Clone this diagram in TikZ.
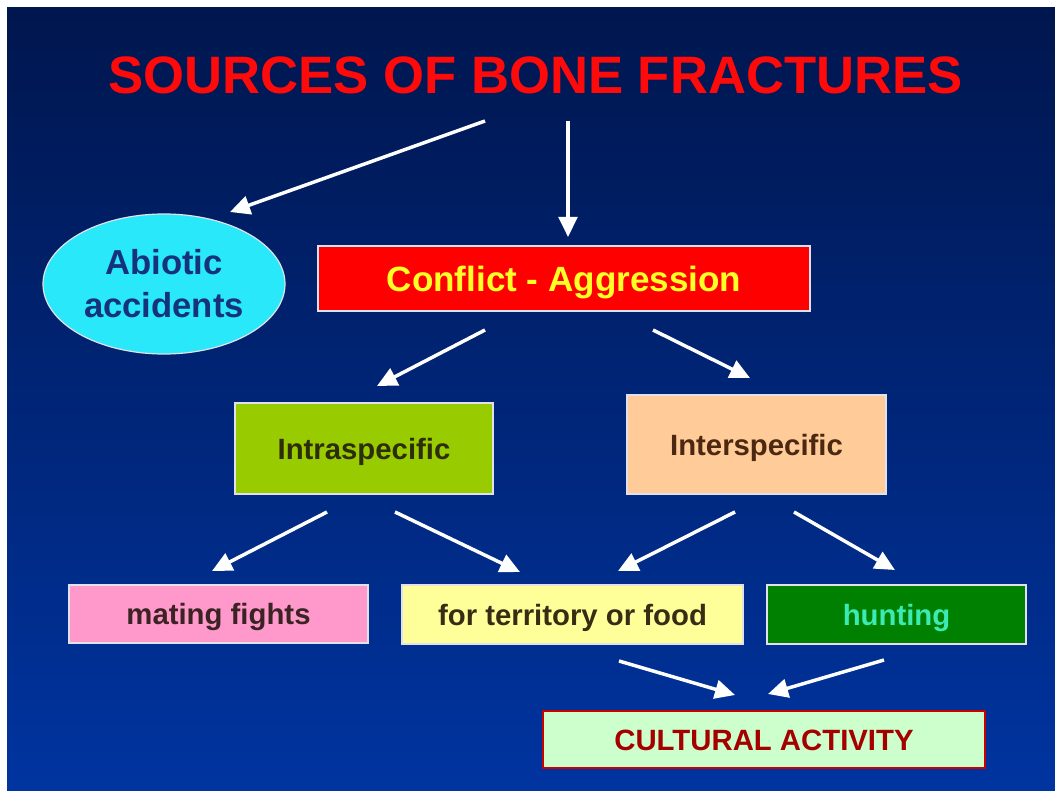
\documentclass[tikz,border=0pt]{standalone}
\usepackage{fontspec}
\setmainfont{Liberation Sans}
\usetikzlibrary{arrows.meta,shapes.geometric}
\definecolor{bgtop}{RGB}{0,22,78}
\definecolor{bgbot}{RGB}{0,52,160}
\definecolor{edgecol}{RGB}{225,225,235}
\definecolor{titlered}{RGB}{255,10,10}
\definecolor{cyanfill}{RGB}{40,232,250}
\definecolor{abiotext}{RGB}{22,50,125}
\definecolor{confred}{RGB}{255,0,0}
\definecolor{confyel}{RGB}{255,255,40}
\definecolor{intrafill}{RGB}{153,204,0}
\definecolor{intratext}{RGB}{45,45,10}
\definecolor{interfill}{RGB}{255,204,153}
\definecolor{intertext}{RGB}{75,40,15}
\definecolor{matefill}{RGB}{255,153,204}
\definecolor{matetext}{RGB}{60,35,35}
\definecolor{terrfill}{RGB}{255,255,153}
\definecolor{terrtext}{RGB}{55,45,20}
\definecolor{huntfill}{RGB}{0,128,0}
\definecolor{hunttext}{RGB}{60,235,180}
\definecolor{cultfill}{RGB}{204,255,204}
\definecolor{cultedge}{RGB}{200,0,0}
\definecolor{culttext}{RGB}{165,0,0}
\begin{document}
\begin{tikzpicture}[x=0.75pt,y=-0.75pt,
  box/.style={draw=edgecol, line width=0.9pt, rectangle, inner sep=0pt,
    text height=15.8pt, text depth=0pt,
    font=\bfseries\fontsize{22}{26}\selectfont},
  arr/.style={draw=white, line width=2.6pt, -{Triangle[length=15pt,width=14pt]}}
]
\useasboundingbox (0,0) rectangle (1055,791);
\shade[top color=bgtop, bottom color=bgbot] (7,8) rectangle (1055,791);

% title
\node[anchor=center, text=titlered, inner sep=0pt, text height=28.3pt, text depth=0pt,
  font=\bfseries\fontsize{39.5}{44}\selectfont] (title) at (535.5,75) {SOURCES OF BONE FRACTURES};

% nodes
\node[ellipse, draw=edgecol, line width=0.9pt, fill=cyanfill, inner sep=0pt,
  minimum width=181.5pt, minimum height=105pt, text=abiotext, align=center,
  font=\bfseries\fontsize{26}{32.25}\selectfont] (abio) at (164,284) {Abiotic\\accidents};
\node[box, fill=confred, text=confyel, minimum width=369pt, minimum height=48.75pt,
  text height=18.8pt,
  font=\bfseries\fontsize{26.3}{30}\selectfont] (conf) at (564,278.5) {Conflict - Aggression};
\node[box, fill=intrafill, text=intratext, minimum width=193.5pt, minimum height=68.25pt] (intra) at (364,448.5) {Intraspecific};
\node[box, fill=interfill, text=intertext, minimum width=194.25pt, minimum height=74.25pt] (inter) at (756.5,444.5) {Interspecific};
\node[box, fill=matefill, text=matetext, minimum width=224.25pt, minimum height=43.5pt] (mate) at (218.5,614) {mating fights};
\node[box, fill=terrfill, text=terrtext, minimum width=255.75pt, minimum height=44.25pt] (terr) at (572.5,614.5) {for territory or food};
\node[box, fill=huntfill, text=hunttext, minimum width=194.25pt, minimum height=44.25pt] (hunt) at (896.5,614.5) {hunting};
\node[box, draw=cultedge, line width=1.8pt, fill=cultfill, text=culttext, minimum width=331.5pt, minimum height=42.75pt] (cult) at (764,739.5) {CULTURAL ACTIVITY};

% arrow end points
\coordinate (a1s) at (485,121); \coordinate (a1e) at (230,212);
\coordinate (a2s) at (568,121); \coordinate (a2e) at (568,237);
\coordinate (a3s) at (485,330); \coordinate (a3e) at (377,386);
\coordinate (a4s) at (653,330); \coordinate (a4e) at (750,378);
\coordinate (a5s) at (327,512); \coordinate (a5e) at (212,571);
\coordinate (a6s) at (395,512); \coordinate (a6e) at (520,572);
\coordinate (a7s) at (735,512); \coordinate (a7e) at (618,571);
\coordinate (a8s) at (794,512); \coordinate (a8e) at (895,570);
\coordinate (a9s) at (619,661); \coordinate (a9e) at (735,695);
\coordinate (a10s) at (884,660); \coordinate (a10e) at (768,694);

\draw[arr] (a1s) -- (a1e);
\draw[arr] (a2s) -- (a2e);
\draw[arr] (a3s) -- (a3e);
\draw[arr] (a4s) -- (a4e);
\draw[arr] (a5s) -- (a5e);
\draw[arr] (a6s) -- (a6e);
\draw[arr] (a7s) -- (a7e);
\draw[arr] (a8s) -- (a8e);
\draw[arr] (a9s) -- (a9e);
\draw[arr] (a10s) -- (a10e);
\end{tikzpicture}
\end{document}
